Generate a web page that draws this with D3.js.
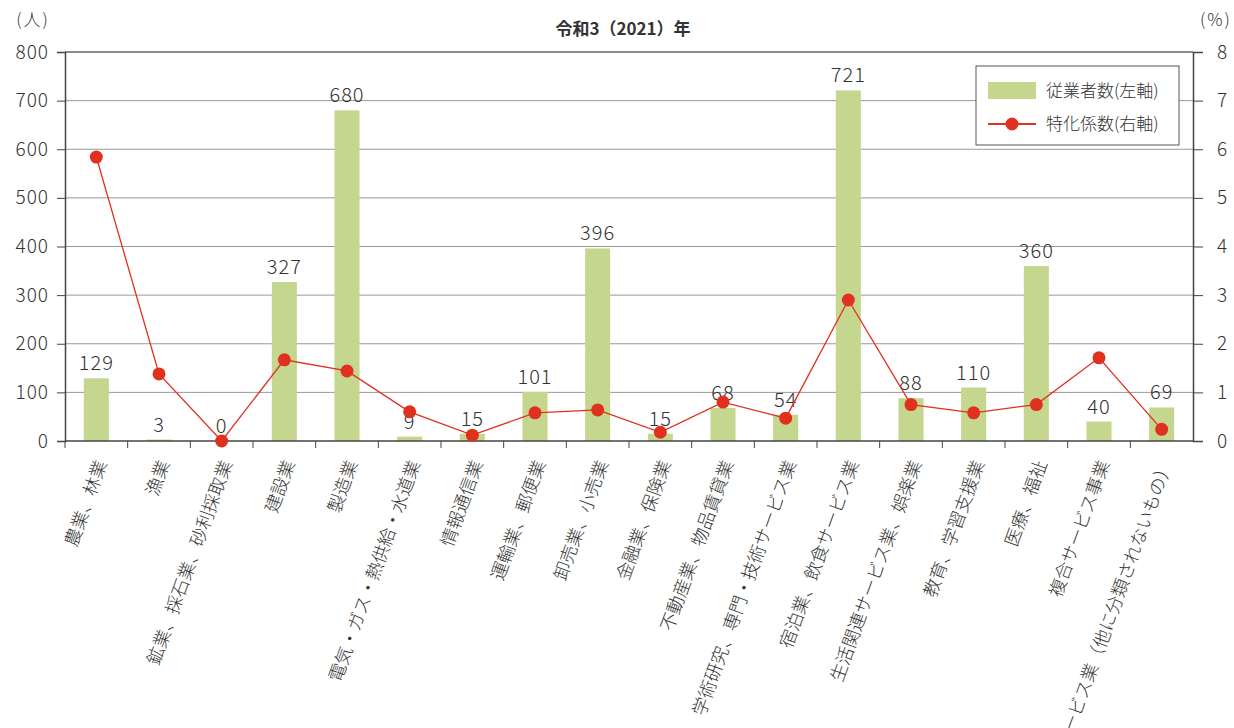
<!DOCTYPE html>
<html>
<head>
<meta charset="utf-8">
<script src="https://cdn.jsdelivr.net/npm/d3@7"></script>
<style>
  body { margin: 0; background: #fff; }
  text { font-family: "Noto Sans CJK JP", "Noto Sans", sans-serif; fill: #333; }
</style>
</head>
<body>
<svg id="chart" width="1234" height="728"></svg>
<script>
// categories and values
const categories = [
  "農業、林業", "漁業", "鉱業、採石業、砂利採取業", "建設業", "製造業",
  "電気・ガス・熱供給・水道業", "情報通信業", "運輸業、郵便業", "卸売業、小売業",
  "金融業、保険業", "不動産業、物品賃貸業", "学術研究、専門・技術サービス業",
  "宿泊業、飲食サービス業", "生活関連サービス業、娯楽業", "教育、学習支援業",
  "医療、福祉", "複合サービス事業", "サービス業（他に分類されないもの）"
];
const workers = [129, 3, 0, 327, 680, 9, 15, 101, 396, 15, 68, 54, 721, 88, 110, 360, 40, 69];
const specialization = [5.84, 1.38, 0, 1.67, 1.44, 0.6, 0.12, 0.58, 0.64, 0.18, 0.8, 0.47, 2.9, 0.75, 0.58, 0.75, 1.71, 0.24];
const leftTicks = [0, 100, 200, 300, 400, 500, 600, 700, 800];
const rightTicks = [0, 1, 2, 3, 4, 5, 6, 7, 8];

const title = "令和3（2021）年";
const legendLabels = ["従業者数(左軸)", "特化係数(右軸)"];

const barColor = "#c5d68f";
const lineColor = "#e0301e";

const svg = d3.select("#chart");
const m = { left: 65, right: 1193, top: 52, bottom: 441 };

const x = d3.scaleBand().domain(categories).range([m.left, m.right]);
const yL = d3.scaleLinear().domain([0, 800]).range([m.bottom, m.top]);
const yR = d3.scaleLinear().domain([0, 8]).range([m.bottom, m.top]);

// gridlines
svg.append("g")
  .selectAll("line")
  .data(leftTicks.slice(1))
  .enter()
  .append("line")
  .attr("x1", m.left).attr("x2", m.right)
  .attr("y1", d => yL(d)).attr("y2", d => yL(d))
  .attr("stroke", d => d === 800 ? "#666" : "#999")
  .attr("stroke-width", d => d === 800 ? 1.5 : 1);

// bars
const bw = x.bandwidth() * 0.4;
svg.append("g")
  .selectAll("rect")
  .data(workers)
  .enter()
  .append("rect")
  .attr("x", (d, i) => x(categories[i]) + x.bandwidth() / 2 - bw / 2)
  .attr("width", bw)
  .attr("y", d => yL(d))
  .attr("height", d => m.bottom - yL(d))
  .attr("fill", barColor);

// bar labels
svg.append("g")
  .selectAll("text")
  .data(workers)
  .enter()
  .append("text")
  .attr("x", (d, i) => x(categories[i]) + x.bandwidth() / 2)
  .attr("y", d => yL(d) - 8)
  .attr("text-anchor", "middle")
  .style("font-size", "20px")
  .style("font-weight", 300)
  .style("letter-spacing", "1px")
  .text(d => d);

// left axis
const axL = svg.append("g")
  .attr("transform", `translate(${m.left},0)`)
  .call(d3.axisLeft(yL).tickValues(leftTicks).tickSize(8).tickPadding(8));
axL.select(".domain").attr("stroke", "#444").attr("stroke-width", 1.5);
axL.selectAll(".tick line").attr("stroke", "#444");
axL.selectAll(".tick text").style("font-size", "19px").style("font-weight", 300)
  .style("letter-spacing", "1px")
  .attr("fill", "#333").attr("font-family", null);

// right axis
const axR = svg.append("g")
  .attr("transform", `translate(${m.right},0)`)
  .call(d3.axisRight(yR).tickValues(rightTicks).tickSize(10).tickPadding(14));
axR.select(".domain").attr("stroke", "#444").attr("stroke-width", 1.5);
axR.selectAll(".tick line").attr("stroke", "#444");
axR.selectAll(".tick text").style("font-size", "19px").style("font-weight", 300)
  .attr("fill", "#333").attr("font-family", null);

// bottom axis line + ticks at band boundaries
svg.append("line")
  .attr("x1", m.left).attr("x2", m.right)
  .attr("y1", m.bottom).attr("y2", m.bottom)
  .attr("stroke", "#444").attr("stroke-width", 1.5);
svg.append("g")
  .selectAll("line")
  .data(categories)
  .enter()
  .append("line")
  .attr("x1", d => x(d)).attr("x2", d => x(d))
  .attr("y1", m.bottom).attr("y2", m.bottom + 7)
  .attr("stroke", "#444");

// x labels
svg.append("g")
  .selectAll("text")
  .data(categories)
  .enter()
  .append("text")
  .attr("transform", d => `translate(${x(d) + x.bandwidth() / 2 + 5},${m.bottom + 20}) rotate(-70)`)
  .attr("text-anchor", "end")
  .attr("dy", "0.35em")
  .style("font-size", "18px")
  .style("font-weight", 300)
  .text(d => d);

// line
const line = d3.line()
  .x((d, i) => x(categories[i]) + x.bandwidth() / 2)
  .y(d => yR(d));
svg.append("path")
  .datum(specialization)
  .attr("d", line)
  .attr("fill", "none")
  .attr("stroke", lineColor)
  .attr("stroke-width", 1.3);
svg.append("g")
  .selectAll("circle")
  .data(specialization)
  .enter()
  .append("circle")
  .attr("cx", (d, i) => x(categories[i]) + x.bandwidth() / 2)
  .attr("cy", d => yR(d))
  .attr("r", 6.5)
  .attr("fill", lineColor);

// title and unit labels
svg.append("text")
  .attr("x", 623).attr("y", 35)
  .attr("text-anchor", "middle")
  .style("font-size", "17px")
  .style("font-weight", 700)
  .text(title);
svg.append("text")
  .attr("x", 33).attr("y", 26)
  .attr("text-anchor", "middle")
  .style("font-size", "17px")
  .style("font-weight", 300)
  .style("letter-spacing", "2px")
  .text("(人)");
svg.append("text")
  .attr("x", 1216).attr("y", 26)
  .attr("text-anchor", "middle")
  .style("font-size", "17px")
  .style("font-weight", 300)
  .style("letter-spacing", "2px")
  .text("(%)");

// legend
const lg = svg.append("g").attr("transform", "translate(976,66)");
lg.append("rect")
  .attr("width", 203).attr("height", 79)
  .attr("fill", "#fff").attr("stroke", "#555").attr("stroke-width", 1);
lg.append("rect")
  .attr("x", 12).attr("y", 16).attr("width", 48).attr("height", 17)
  .attr("fill", barColor);
lg.append("line")
  .attr("x1", 12).attr("x2", 60).attr("y1", 58).attr("y2", 58)
  .attr("stroke", lineColor).attr("stroke-width", 2);
lg.append("circle")
  .attr("cx", 36).attr("cy", 58).attr("r", 6.5).attr("fill", lineColor);
lg.selectAll("text.lbl")
  .data(legendLabels)
  .enter()
  .append("text")
  .attr("class", "lbl")
  .attr("x", 70)
  .attr("y", (d, i) => 25 + i * 33)
  .attr("dy", "0.35em")
  .style("font-size", "17px")
  .style("font-weight", 300)
  .text(d => d);
</script>
</body>
</html>
